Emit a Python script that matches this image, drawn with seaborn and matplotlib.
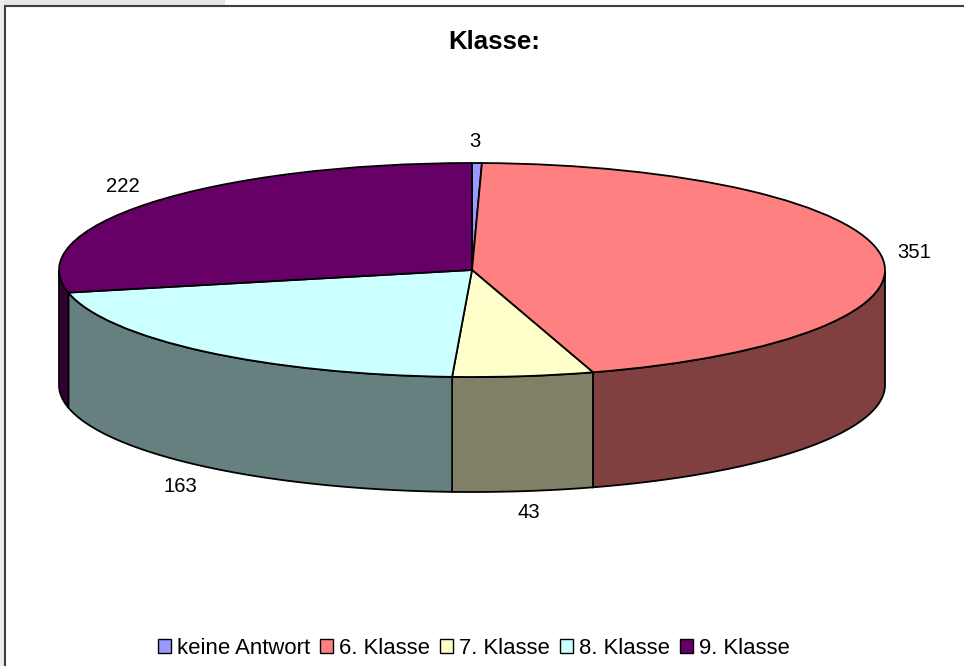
import numpy as np
import matplotlib
matplotlib.use('Agg')
import matplotlib.pyplot as plt
from matplotlib.patches import Rectangle
import seaborn as sns

sns.set_theme(style='white')
plt.rcParams['font.family'] = ['Liberation Sans', 'DejaVu Sans']

categories = ['keine Antwort', '6. Klasse', '7. Klasse', '8. Klasse', '9. Klasse']
values = [3, 351, 43, 163, 222]
top_colors = ['#9999FF', '#FF8080', '#FFFFCC', '#CCFFFF', '#660066']
side_colors = ['#4D4D80', '#804040', '#808066', '#668080', '#330033']

W, H = 964, 666
CX, CY = 472, 270      # centre of the top face, pixels
RX, RY = 413, 107      # radii of the ellipse, pixels
DEPTH = 115 / RY       # height of the cylinder in y units

fig = plt.figure(figsize=(W / 100, H / 100), dpi=100)
ax = fig.add_axes([0, 0, 1, 1])

# top face
wedges, _ = ax.pie(values, colors=top_colors, startangle=90, counterclock=False,
                   radius=1, wedgeprops={'edgecolor': 'black', 'linewidth': 1.3, 'zorder': 3})
ax.set_aspect('auto')
ax.set_xlim(-CX / RX, (W - CX) / RX)
ax.set_ylim((CY - H) / RY, CY / RY)
ax.set_frame_on(False)

# outer wall, only the front half of the ellipse can be seen
edges = np.cumsum([0] + values) / sum(values) * 2 * np.pi
for i, val in enumerate(values):
    a0, a1 = edges[i], edges[i + 1]
    t = np.linspace(a0, a1, 200)
    t = t[np.cos(t) <= 0]
    if len(t) < 2:
        continue
    x = np.sin(t)
    y = np.cos(t)
    ax.fill(np.r_[x, x[::-1]], np.r_[y, y[::-1] - DEPTH], facecolor=side_colors[i],
            edgecolor='black', linewidth=1.3, zorder=2)

# value labels
label_x = [475, 914, 529, 180, 123]
label_y = [141, 252, 513, 486, 186]
for lx, ly, val in zip(label_x, label_y, values):
    ax.text((lx - CX) / RX, (CY - ly) / RY, str(val), ha='center', va='center',
            fontsize=14.6, color='black')

fig.text(494 / W, 1 - 42 / H, 'Klasse:', ha='center', va='center', fontsize=18.5,
         fontweight='bold', color='black')

# chart frame and the grey edge of the page behind it
fig.add_artist(Rectangle((0, 1 - 5 / H), 225 / W, 5 / H, transform=fig.transFigure,
                         facecolor='#E6E6E6', edgecolor='none'))
fig.add_artist(Rectangle((0, 0), 4 / W, 1, transform=fig.transFigure,
                         facecolor='#EDEDED', edgecolor='none'))
fig.add_artist(plt.Line2D([5 / W, 5 / W], [0, 1 - 6 / H], color='#404040', linewidth=1.5))
fig.add_artist(plt.Line2D([5 / W, 1], [1 - 6 / H, 1 - 6 / H], color='#404040', linewidth=1.5))

leg = fig.legend(wedges, categories, loc='center', bbox_to_anchor=(474 / W, 1 - 648 / H),
                 ncol=5, frameon=False, fontsize=15.9, handlelength=0.58, handleheight=0.58,
                 handletextpad=0.28, columnspacing=0.45, labelcolor='black')
for h in leg.get_patches():
    h.set_edgecolor('black')
    h.set_linewidth(1.0)

fig.savefig('out.png', dpi=100, facecolor='white')
